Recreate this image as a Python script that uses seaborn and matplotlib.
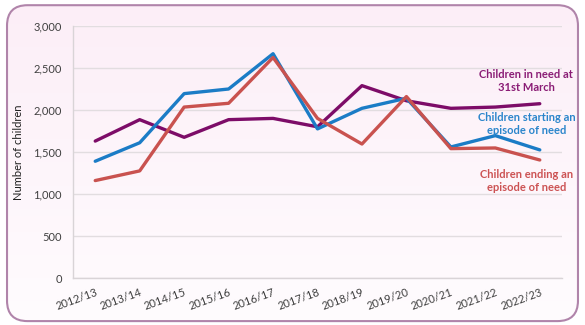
import numpy as np
import pandas as pd
import matplotlib
matplotlib.use("Agg")
import matplotlib.pyplot as plt
from matplotlib.patches import FancyBboxPatch
import seaborn as sns

years = ["2012/13", "2013/14", "2014/15", "2015/16", "2016/17", "2017/18",
         "2018/19", "2019/20", "2020/21", "2021/22", "2022/23"]
in_need = [1630, 1885, 1675, 1885, 1900, 1800, 2290, 2110, 2020, 2035, 2075]
starting = [1390, 1610, 2195, 2250, 2670, 1775, 2020, 2140, 1560, 1695, 1525]
ending = [1160, 1275, 2035, 2080, 2625, 1900, 1595, 2160, 1540, 1548, 1405]
y_ticks = [0, 500, 1000, 1500, 2000, 2500, 3000]

series = {
    "Children in need at\n31st March": in_need,
    "Children starting an\nepisode of need": starting,
    "Children ending an\nepisode of need": ending,
}
line_colors = ["#7D0C68", "#1B7CC6", "#C9524F"]
text_colors = ["#8A1C75", "#2A85CB", "#CC5253"]

df = pd.concat(
    [pd.DataFrame({"year": years, "children": v, "series": k}) for k, v in series.items()],
    ignore_index=True,
)

sns.set_theme(style="white")
plt.rcParams["font.family"] = ["Lato", "DejaVu Sans"]

fig = plt.figure(figsize=(5.85, 3.25), dpi=100)

# rounded card with a soft pink-to-white vertical gradient
bg = fig.add_axes([0, 0, 1, 1], zorder=0)
bg.set_axis_off()
bg.set_xlim(0, 1)
bg.set_ylim(0, 1)
card = FancyBboxPatch((0.012, 0.012), 0.976, 0.972,
                      boxstyle="round,pad=0,rounding_size=0.035",
                      transform=bg.transAxes, facecolor="none",
                      edgecolor="#B084AA", linewidth=1.5, zorder=3,
                      mutation_aspect=585 / 325)
grad = np.linspace(0, 1, 256).reshape(-1, 1)
top = np.array([252, 238, 247]) / 255
bot = np.array([255, 252, 254]) / 255
img = top[None, None, :] * (1 - grad[:, :, None]) + bot[None, None, :] * grad[:, :, None]
im = bg.imshow(img, extent=[0, 1, 0, 1], aspect="auto", origin="upper", zorder=1)
bg.add_patch(card)
im.set_clip_path(card)

ax = fig.add_axes([0.1248, 0.1446, 0.8359, 0.7754], zorder=2)
ax.set_facecolor("none")

sns.lineplot(data=df, x="year", y="children", hue="series", palette=line_colors,
             linewidth=2.4, ax=ax, legend=False, sort=False)

ax.set_xlim(-0.5, len(years) - 0.5)
ax.set_ylim(0, 3000)
ax.set_yticks(y_ticks)
ax.set_yticklabels([f"{v:,}" for v in y_ticks], fontsize=8, color="#404040")
ax.yaxis.grid(True, color="#E2DDE0", linewidth=1)
ax.set_axisbelow(True)

ax.set_xticks(range(len(years)))
ax.set_xticklabels(years, fontsize=8, color="#404040", rotation=20,
                   ha="right", va="top", rotation_mode="anchor")
ax.tick_params(axis="x", length=0, pad=6)
ax.set_xticks(np.arange(-0.5, len(years)), minor=True)
ax.tick_params(axis="x", which="minor", length=5, color="#D9D4D7", width=1)
ax.tick_params(axis="y", length=0, pad=8)

for side in ["top", "right"]:
    ax.spines[side].set_visible(False)
for side in ["left", "bottom"]:
    ax.spines[side].set_color("#D9D4D7")
    ax.spines[side].set_linewidth(1)

ax.set_xlabel("")
ax.set_ylabel("Number of children", fontsize=8, color="#202020", labelpad=7)

label_pos = [(526, 81), (527, 124), (527, 181)]
for (name, _), (px, py), c in zip(series.items(), label_pos, text_colors):
    fig.text(px / 585, 1 - py / 325, name, ha="center", va="center",
             fontsize=8, fontweight="bold", color=c, linespacing=1.25)

fig.savefig("out.png", dpi=100)
